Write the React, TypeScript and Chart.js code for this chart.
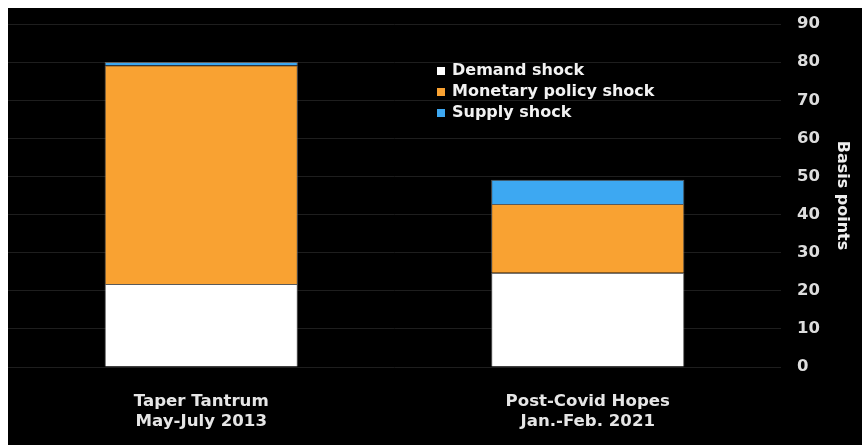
import React, { useEffect, useRef } from "react";
import { Chart, registerables } from "chart.js";

Chart.register(...registerables);

const categories: string[][] = [
  ["Taper Tantrum", "May-July 2013"],
  ["Post-Covid Hopes", "Jan.-Feb. 2021"],
];
const seriesNames = ["Demand shock", "Monetary policy shock", "Supply shock"];
const demandShock = [21.8, 24.7];
const monetaryShock = [57.4, 18.1];
const supplyShock = [0.8, 6.3];
const seriesColors = ["#FFFFFF", "#F9A232", "#3DA8F2"];
const yTicks = [0, 10, 20, 30, 40, 50, 60, 70, 80, 90];
const axisTitle = "Basis points";

const FONT = "'DejaVu Sans', Verdana, sans-serif";

const legendPlugin = {
  id: "customLegend",
  afterDraw(chart: any) {
    const { ctx, chartArea } = chart;
    ctx.save();
    ctx.font = `bold 16px ${FONT}`;
    ctx.textBaseline = "middle";
    ctx.textAlign = "left";
    chart.data.datasets.forEach((ds: any, i: number) => {
      const cy = chartArea.top + 47 + i * 21;
      const sx = chartArea.left + 429;
      ctx.fillStyle = ds.backgroundColor;
      ctx.fillRect(sx, cy - 4, 8, 8);
      ctx.fillStyle = "#F2F2F2";
      ctx.fillText(ds.label, sx + 15, cy);
    });
    ctx.restore();
  },
};

export default function App() {
  const ref = useRef<HTMLCanvasElement | null>(null);

  useEffect(() => {
    if (!ref.current) return;
    const values = [demandShock, monetaryShock, supplyShock];
    const chart = new Chart(ref.current, {
      type: "bar",
      data: {
        labels: categories,
        datasets: seriesNames.map((name, i) => ({
          label: name,
          data: values[i],
          backgroundColor: seriesColors[i],
          borderColor: "rgba(120,120,120,0.75)",
          borderWidth: 1,
          barPercentage: 0.5,
          categoryPercentage: 1,
        })),
      },
      options: {
        animation: false,
        responsive: false,
        maintainAspectRatio: false,
        layout: { padding: { left: 0, top: 16, right: 0, bottom: 0 } },
        plugins: {
          legend: { display: false },
          tooltip: { enabled: false },
          title: { display: false },
        },
        scales: {
          x: {
            stacked: true,
            grid: { display: false, drawTicks: false },
            border: { display: false },
            ticks: {
              color: "#E6E6E6",
              padding: 25,
              maxRotation: 0,
              font: { family: FONT, size: 16.6, weight: "bold", lineHeight: 20 / 16.6 },
            },
            afterFit(scale: any) {
              scale.height = 78;
              scale.paddingLeft = 0;
              scale.paddingRight = 0;
            },
          },
          y: {
            stacked: true,
            position: "right",
            min: 0,
            max: 90,
            afterBuildTicks(scale: any) {
              scale.ticks = yTicks.map((v) => ({ value: v }));
            },
            grid: { color: "#1E1E1E", lineWidth: 1, drawTicks: false },
            border: { display: false },
            ticks: {
              color: "#DDDDDD",
              padding: 16,
              font: { family: FONT, size: 16.5, weight: "bold" },
            },
            title: {
              display: true,
              text: axisTitle,
              color: "#EEEEEE",
              padding: { top: 10, bottom: 0 },
              font: { family: FONT, size: 16, weight: "bold" },
            },
            afterFit(scale: any) {
              scale.width = 81;
              scale.paddingTop = 0;
              scale.paddingBottom = 0;
            },
          },
        },
      },
      plugins: [legendPlugin],
    });
    return () => chart.destroy();
  }, []);

  return (
    <div
      style={{
        position: "absolute",
        left: 8,
        top: 8,
        width: 854,
        height: 437,
        background: "#000000",
      }}
    >
      <canvas ref={ref} width={854} height={437} style={{ display: "block" }} />
    </div>
  );
}
